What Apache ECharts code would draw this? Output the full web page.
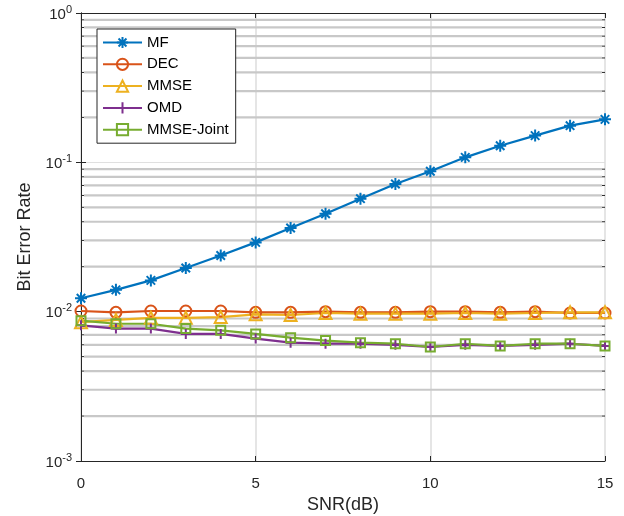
<!DOCTYPE html>
<html lang="en">
<head>
    <meta charset="UTF-8">
    <title>BER vs SNR</title>
    <style>
        html, body { margin: 0; padding: 0; background: #fff; }
    </style>
</head>
<body>
<div id="main" style="width: 624px;height:516px;"></div>

<script src="https://cdn.jsdelivr.net/npm/echarts@6/dist/echarts.min.js"></script>
<script>
    // values
    var snr = [0, 1, 2, 3, 4, 5, 6, 7, 8, 9, 10, 11, 12, 13, 14, 15];
    var mfBer = [0.0123, 0.0140, 0.0162, 0.0196, 0.0238, 0.0291, 0.0363, 0.0453, 0.0571, 0.0716, 0.0871, 0.108, 0.129, 0.151, 0.176, 0.194];
    var decBer = [0.0101, 0.0099, 0.0101, 0.0101, 0.0101, 0.0099, 0.0099, 0.0100, 0.0099, 0.0099, 0.0100, 0.0100, 0.0099, 0.0100, 0.0098, 0.0098];
    var mmseBer = [0.0085, 0.0088, 0.0091, 0.0091, 0.0092, 0.0096, 0.0095, 0.0098, 0.0097, 0.0097, 0.0097, 0.0098, 0.0097, 0.0098, 0.0099, 0.0099];
    var omdBer = [0.0081, 0.0077, 0.0077, 0.0071, 0.0071, 0.0066, 0.0062, 0.0061, 0.0061, 0.0060, 0.0058, 0.0060, 0.0059, 0.0060, 0.0061, 0.0059];
    var jointBer = [0.0087, 0.0083, 0.0083, 0.0077, 0.0075, 0.0071, 0.0067, 0.0064, 0.0062, 0.0061, 0.0058, 0.0061, 0.0059, 0.0061, 0.0061, 0.0059];
    var names = ['MF', 'DEC', 'MMSE', 'OMD', 'MMSE-Joint'];

    // minor grid values 2..9 in each decade
    var minorVals = [];
    [0.001, 0.01, 0.1].forEach(function (d) {
        for (var k = 2; k <= 9; k++) minorVals.push(+(d * k).toPrecision(2));
    });

    var font = 'Liberation Sans, Arial, Helvetica, sans-serif';
    var axisColor = '#262626';

    var asterisk = 'path://M0,-10L0,10M-10,0L10,0M-7.07,-7.07L7.07,7.07M-7.07,7.07L7.07,-7.07';
    var plus = 'path://M0,-10L0,10M-10,0L10,0';

    function pairs(ys) {
        return snr.map(function (x, i) { return [x, ys[i]]; });
    }

    function lineSeries(name, ys, color, symbol, size) {
        return {
            name: name,
            type: 'line',
            data: pairs(ys),
            clip: false,
            symbol: symbol,
            symbolSize: size,
            showAllSymbol: true,
            lineStyle: { color: color, width: 2.2 },
            itemStyle: { color: 'rgba(255,255,255,0)', borderColor: color, borderWidth: 2 },
            emphasis: { disabled: true },
            z: 3
        };
    }

    var chart = echarts.init(document.getElementById('main'));

    var yLabel = {
        fontFamily: font,
        color: axisColor,
        margin: 9,
        formatter: function (v) {
            var e = Math.round(Math.log10(v));
            return '{b|10}{s|' + e + '}';
        },
        rich: {
            b: { fontSize: 15, fontFamily: font, color: axisColor, lineHeight: 18, verticalAlign: 'bottom' },
            s: { fontSize: 11, fontFamily: font, color: axisColor, lineHeight: 18, verticalAlign: 'top' }
        }
    };

    chart.setOption({
        animation: false,
        backgroundColor: '#fff',
        grid: { left: 81, right: 19, top: 13, bottom: 55, outerBoundsMode: 'none' },
        legend: {
            data: names,
            orient: 'vertical',
            left: 97,
            top: 29,
            itemWidth: 39,
            itemHeight: 14,
            itemGap: 6.8,
            padding: [6, 7, 6, 5],
            borderColor: axisColor,
            borderWidth: 1,
            backgroundColor: '#fff',
            textStyle: { fontFamily: font, fontSize: 15, color: '#000' }
        },
        xAxis: [{
            type: 'value',
            min: 0,
            max: 15,
            interval: 5,
            name: 'SNR(dB)',
            nameLocation: 'middle',
            nameGap: 28,
            nameTextStyle: { fontFamily: font, fontSize: 18, color: axisColor },
            axisLine: { lineStyle: { color: axisColor, width: 1 } },
            axisTick: { inside: true, length: 5, lineStyle: { color: axisColor } },
            axisLabel: { fontFamily: font, fontSize: 15, color: axisColor, margin: 15 },
            splitLine: { show: true, lineStyle: { color: '#dcdcdc', width: 1.5 } }
        }, {
            type: 'value',
            position: 'top',
            min: 0,
            max: 15,
            interval: 5,
            axisLine: { show: true, lineStyle: { color: axisColor, width: 1 } },
            axisTick: { inside: true, length: 5, lineStyle: { color: axisColor } },
            axisLabel: { show: false },
            splitLine: { show: false }
        }],
        yAxis: [{
            type: 'log',
            logBase: 10,
            min: 0.001,
            max: 1,
            interval: 1,
            name: 'Bit Error Rate',
            nameLocation: 'middle',
            nameGap: 47,
            nameTextStyle: { fontFamily: font, fontSize: 18, color: axisColor },
            axisLine: { show: true, lineStyle: { color: axisColor, width: 1 } },
            axisTick: { inside: true, length: 5, lineStyle: { color: axisColor } },
            axisLabel: yLabel,
            splitLine: { show: true, lineStyle: { color: '#e0e0e0', width: 1 } }
        }, {
            type: 'log',
            logBase: 10,
            min: 0.001,
            max: 1,
            interval: 1,
            position: 'right',
            axisLine: { show: true, lineStyle: { color: axisColor, width: 1 } },
            axisTick: { inside: true, length: 5, lineStyle: { color: axisColor } },
            axisLabel: { show: false },
            splitLine: { show: false }
        }],
        series: [
            {
                name: 'minor',
                type: 'custom',
                silent: true,
                z: 1,
                data: minorVals.map(function (v) { return [0, v]; }),
                renderItem: function (params, api) {
                    var v = api.value(1);
                    var a = api.coord([0, v]);
                    var b = api.coord([15, v]);
                    return {
                        type: 'group',
                        children: [{
                            type: 'line',
                            shape: { x1: a[0] + 3, y1: a[1], x2: b[0] - 3, y2: b[1] },
                            style: { stroke: '#c8c8c8', lineWidth: 2.2 }
                        }, {
                            type: 'line',
                            shape: { x1: a[0], y1: a[1], x2: a[0] + 3, y2: a[1] },
                            style: { stroke: axisColor, lineWidth: 1 }
                        }, {
                            type: 'line',
                            shape: { x1: b[0] - 3, y1: b[1], x2: b[0], y2: b[1] },
                            style: { stroke: axisColor, lineWidth: 1 }
                        }]
                    };
                }
            },
            lineSeries('MF', mfBer, '#0072BD', asterisk, 12),
            lineSeries('DEC', decBer, '#D95319', 'circle', 11),
            lineSeries('MMSE', mmseBer, '#EDB120', 'triangle', 12),
            lineSeries('OMD', omdBer, '#7E2F8E', plus, 10),
            lineSeries('MMSE-Joint', jointBer, '#77AC30', 'rect', 9)
        ]
    });
</script>
</body>
</html>
